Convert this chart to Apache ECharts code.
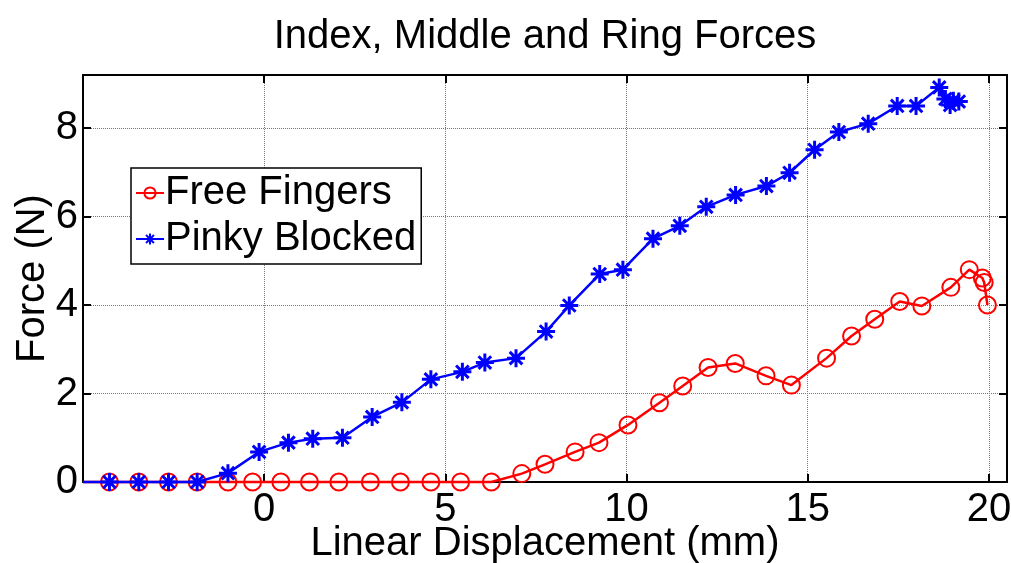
<!DOCTYPE html>
<html>
<head>
<meta charset="utf-8">
<script src="https://cdn.jsdelivr.net/npm/echarts@6/dist/echarts.min.js"></script>
<style>
  html, body { margin: 0; padding: 0; background: #fff; }
  #chart { width: 1011px; height: 563px; }
</style>
</head>
<body>
<div id="chart"></div>
<script>
// values (mm, N)
var freeX = [-5, -4.27, -3.46, -2.64, -1.85, -1.0, -0.32, 0.46, 1.25, 2.06, 2.93, 3.76, 4.6, 5.42, 6.27,
    7.11, 7.75, 8.58, 9.24, 10.04, 10.91, 11.55, 12.25, 13.0, 13.85, 14.55, 15.52, 16.21, 16.85, 17.54,
    18.15, 18.95, 19.46, 19.82, 19.87, 19.96];
var freeY = [0, 0, 0, 0, 0, 0, 0, 0, 0, 0, 0, 0, 0, 0, 0,
    0.19, 0.40, 0.68, 0.89, 1.29, 1.79, 2.17, 2.59, 2.68, 2.40, 2.19, 2.80, 3.30, 3.68, 4.08,
    3.98, 4.40, 4.80, 4.61, 4.51, 4.00];
var pinkyX = [-5, -4.27, -3.46, -2.64, -1.85, -1.0, -0.14, 0.67, 1.34, 2.16, 2.98, 3.8, 4.6, 5.47, 6.09,
    6.95, 7.78, 8.42, 9.26, 9.9, 10.73, 11.47, 12.2, 13.01, 13.86, 14.5, 15.19, 15.86, 16.67, 17.47,
    17.99, 18.63, 18.8, 18.93, 19.02, 19.17];
var pinkyY = [0, 0, 0, 0, 0, 0.2, 0.68, 0.89, 0.98, 1.0, 1.47, 1.8, 2.32, 2.49, 2.7,
    2.8, 3.4, 3.99, 4.70, 4.8, 5.5, 5.79, 6.22, 6.49, 6.69, 6.99, 7.51, 7.91, 8.1, 8.5,
    8.5, 8.92, 8.66, 8.52, 8.62, 8.6];
var xTicks = [0, 5, 10, 15, 20];
var yTicks = [0, 2, 4, 6, 8];

(function () {
    var mychart = echarts.init(document.getElementById('chart'));
    var font = 'Liberation Sans, Arial, sans-serif';
    var asterisk = 'path://M0,-10L0,10M-10,0L10,0M-7,-7L7,7M-7,7L7,-7';
    var ring = 'path://M10,0A10,10,0,1,1,-10,0A10,10,0,1,1,10,0Z';

    // first point sits on the left frame, no marker there
    function pairs(xs, ys) {
        return xs.map(function (x, i) {
            var p = { value: [x, ys[i]] };
            if (i === 0) p.symbol = 'none';
            return p;
        });
    }

    function xAxisOf(pos, showLabel) {
        return {
            type: 'value',
            position: pos,
            min: -5,
            max: 20.5,
            interval: 5,
            axisLine: { show: true, onZero: false, lineStyle: { color: '#000', width: 2 } },
            axisTick: { show: true, inside: true, length: 8, lineStyle: { color: '#000', width: 2 } },
            axisLabel: {
                show: showLabel,
                color: '#000',
                fontSize: 40,
                fontFamily: font,
                margin: 8,
                formatter: function (v) { return xTicks.indexOf(v) >= 0 ? String(v) : ''; }
            },
            splitLine: { show: showLabel, lineStyle: { color: '#777', type: 'dotted', width: 1 } },
            name: showLabel ? 'Linear Displacement (mm)' : '',
            nameLocation: 'middle',
            nameGap: 42,
            nameMoveOverlap: false,
            nameTextStyle: { color: '#000', fontSize: 40, fontFamily: font }
        };
    }

    function yAxisOf(pos, showLabel) {
        return {
            type: 'value',
            position: pos,
            min: 0,
            max: 9.2,
            interval: 2,
            axisLine: { show: true, onZero: false, lineStyle: { color: '#000', width: 2 } },
            axisTick: { show: true, inside: true, length: 8, lineStyle: { color: '#000', width: 2 } },
            axisLabel: {
                show: showLabel,
                color: '#000',
                fontSize: 40,
                fontFamily: font,
                margin: 5,
                formatter: function (v) { return yTicks.indexOf(v) >= 0 ? String(v) : ''; }
            },
            splitLine: { show: showLabel, lineStyle: { color: '#777', type: 'dotted', width: 1 } },
            name: showLabel ? 'Force (N)' : '',
            nameLocation: 'middle',
            nameGap: 30,
            nameMoveOverlap: false,
            nameTextStyle: { color: '#000', fontSize: 40, fontFamily: font }
        };
    }

    var option = {
        backgroundColor: '#fff',
        animation: false,
        title: {
            text: 'Index, Middle and Ring Forces',
            left: 540,
            top: 12,
            textAlign: 'center',
            textStyle: { color: '#000', fontSize: 40, fontWeight: 'normal', fontFamily: font }
        },
        grid: { left: 83, right: 4, top: 75, bottom: 81, outerBoundsMode: 'none' },
        legend: {
            left: 131,
            top: 168,
            orient: 'vertical',
            backgroundColor: '#fff',
            borderColor: '#000',
            borderWidth: 1.5,
            borderRadius: 0,
            padding: [5, 5, 5, 4],
            itemGap: 6,
            itemWidth: 28,
            itemHeight: 14,
            textStyle: { color: '#000', fontSize: 40, fontFamily: font, padding: [0, 0, 0, -4] },
            data: ['Free Fingers', 'Pinky Blocked']
        },
        xAxis: [xAxisOf('bottom', true), xAxisOf('top', false)],
        yAxis: [yAxisOf('left', true), yAxisOf('right', false)],
        series: [
            {
                name: 'Free Fingers',
                type: 'line',
                data: pairs(freeX, freeY),
                symbol: ring,
                symbolSize: 17,
                clip: false,
                lineStyle: { color: '#ff0000', width: 2.5 },
                itemStyle: { color: 'rgba(0,0,0,0)', borderColor: '#ff0000', borderWidth: 2 },
                z: 2
            },
            {
                name: 'Pinky Blocked',
                type: 'line',
                data: pairs(pinkyX, pinkyY),
                symbol: asterisk,
                symbolSize: 18,
                clip: false,
                lineStyle: { color: '#0000ff', width: 2.5 },
                itemStyle: { color: '#0000ff', borderColor: '#0000ff', borderWidth: 3 },
                z: 3
            }
        ]
    };
    mychart.setOption(option);
    window.addEventListener('resize', function () {
        mychart.resize();
    });
})();
</script>
</body>
</html>
